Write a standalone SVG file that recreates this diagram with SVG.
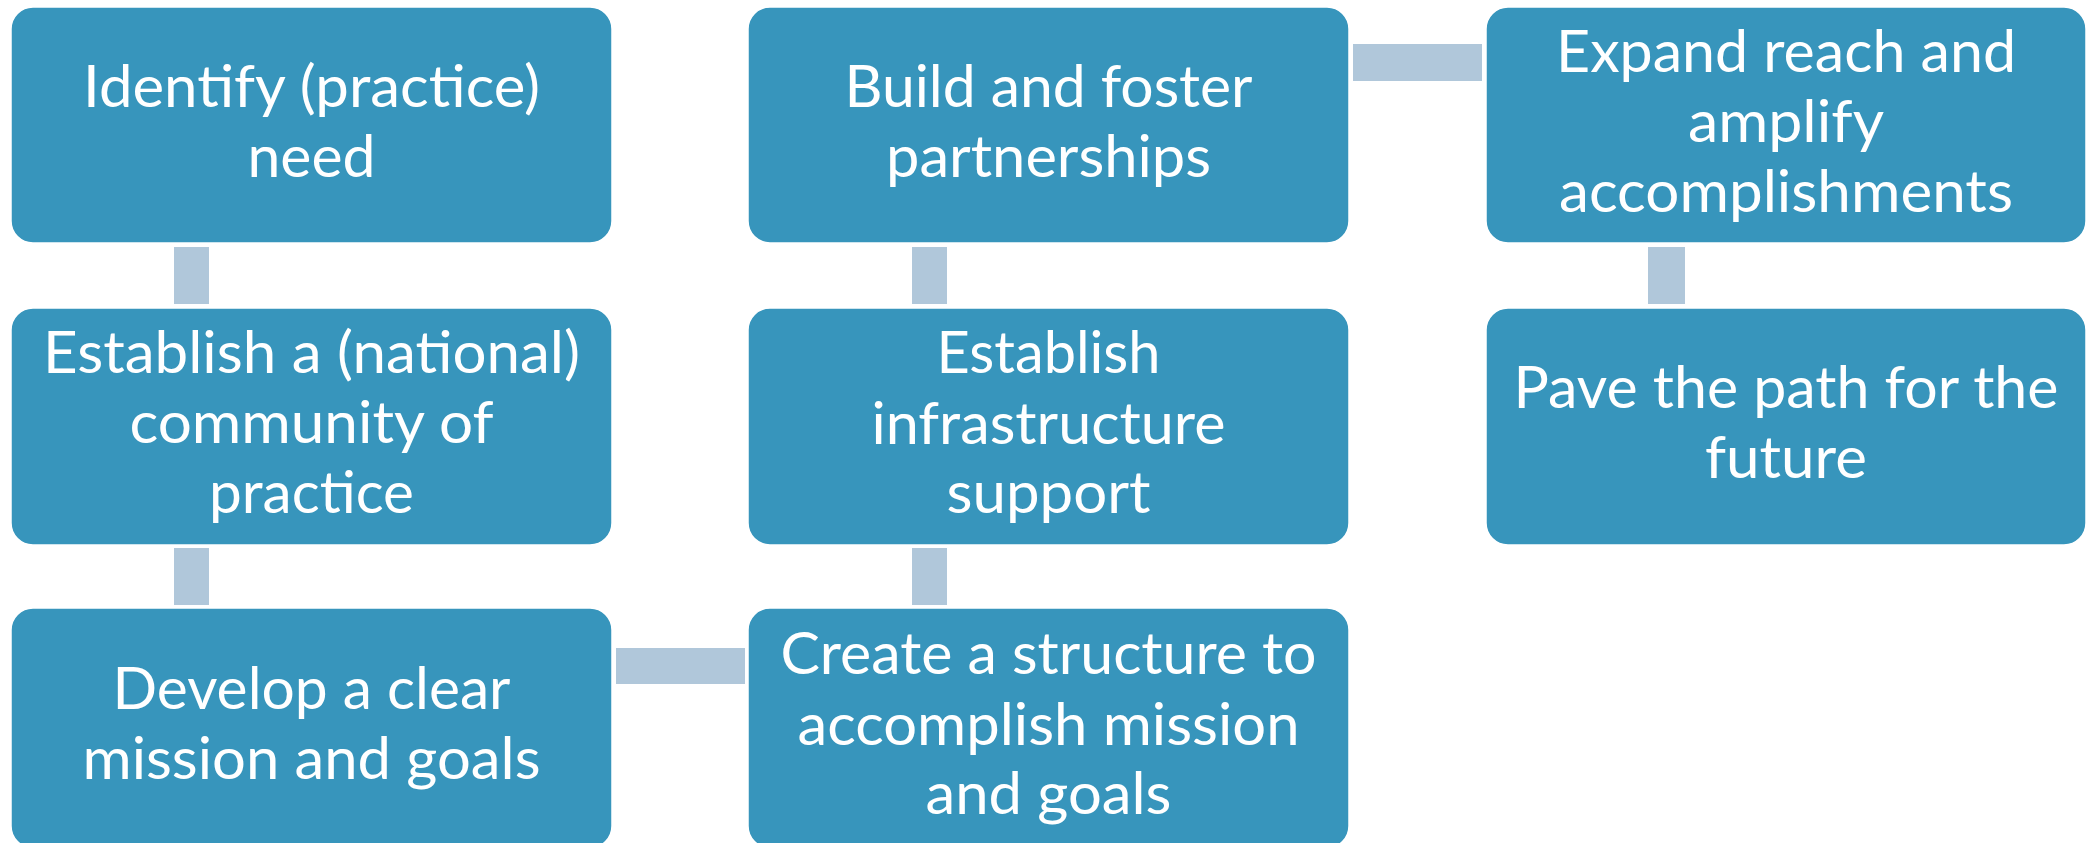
<svg xmlns="http://www.w3.org/2000/svg" width="2089" height="843" viewBox="0 0 2089 843">
<style>
.box{fill:#3795BC;stroke:#ffffff;stroke-width:1.5}
.conn{fill:#B0C7DA}
.t{font-family:Lato,"Open Sans","Liberation Sans",sans-serif;font-size:59px;fill:#ffffff;text-anchor:middle}
</style>
<rect width="2089" height="843" fill="#ffffff"/>
<g id="connectors">
<rect class="conn" x="174" y="247" width="35" height="57"/>
<rect class="conn" x="174" y="548" width="35" height="57"/>
<rect class="conn" x="616" y="648" width="129" height="36"/>
<rect class="conn" x="912" y="548" width="35" height="57"/>
<rect class="conn" x="912" y="247" width="35" height="57"/>
<rect class="conn" x="1353" y="44" width="129" height="37"/>
<rect class="conn" x="1648" y="247" width="37" height="57"/>
</g>
<g id="n1">
<rect class="box" x="11" y="7" width="601" height="236" rx="22" ry="22"/>
<text class="t" x="311.5" y="107" textLength="457" lengthAdjust="spacingAndGlyphs">Identify (practice)</text>
<text class="t" x="311.5" y="177" textLength="128" lengthAdjust="spacingAndGlyphs">need</text>
</g>
<g id="n2">
<rect class="box" x="11" y="308" width="601" height="237" rx="22" ry="22"/>
<text class="t" x="311.5" y="373" textLength="537" lengthAdjust="spacingAndGlyphs">Establish a (national)</text>
<text class="t" x="311.5" y="443" textLength="364" lengthAdjust="spacingAndGlyphs">community of</text>
<text class="t" x="311.5" y="513" textLength="205" lengthAdjust="spacingAndGlyphs">practice</text>
</g>
<g id="n3">
<rect class="box" x="11" y="608" width="601" height="240" rx="22" ry="22"/>
<text class="t" x="311.5" y="709" textLength="398" lengthAdjust="spacingAndGlyphs">Develop a clear</text>
<text class="t" x="311.5" y="779" textLength="458" lengthAdjust="spacingAndGlyphs">mission and goals</text>
</g>
<g id="n4">
<rect class="box" x="748" y="608" width="601" height="240" rx="22" ry="22"/>
<text class="t" x="1048.5" y="674" textLength="536" lengthAdjust="spacingAndGlyphs">Create a structure to</text>
<text class="t" x="1048.5" y="745" textLength="502" lengthAdjust="spacingAndGlyphs">accomplish mission</text>
<text class="t" x="1048.5" y="814" textLength="246" lengthAdjust="spacingAndGlyphs">and goals</text>
</g>
<g id="n5">
<rect class="box" x="748" y="308" width="601" height="237" rx="22" ry="22"/>
<text class="t" x="1048.5" y="373" textLength="224" lengthAdjust="spacingAndGlyphs">Establish</text>
<text class="t" x="1048.5" y="444" textLength="354" lengthAdjust="spacingAndGlyphs">infrastructure</text>
<text class="t" x="1048.5" y="513" textLength="204" lengthAdjust="spacingAndGlyphs">support</text>
</g>
<g id="n6">
<rect class="box" x="748" y="7" width="601" height="236" rx="22" ry="22"/>
<text class="t" x="1048.5" y="107" textLength="408" lengthAdjust="spacingAndGlyphs">Build and foster</text>
<text class="t" x="1048.5" y="177" textLength="325" lengthAdjust="spacingAndGlyphs">partnerships</text>
</g>
<g id="n7">
<rect class="box" x="1486" y="7" width="600" height="236" rx="22" ry="22"/>
<text class="t" x="1786" y="72" textLength="460" lengthAdjust="spacingAndGlyphs">Expand reach and</text>
<text class="t" x="1786" y="142" textLength="196" lengthAdjust="spacingAndGlyphs">amplify</text>
<text class="t" x="1786" y="212" textLength="454" lengthAdjust="spacingAndGlyphs">accomplishments</text>
</g>
<g id="n8">
<rect class="box" x="1486" y="308" width="600" height="237" rx="22" ry="22"/>
<text class="t" x="1786" y="408" textLength="545" lengthAdjust="spacingAndGlyphs">Pave the path for the</text>
<text class="t" x="1786" y="478" textLength="162" lengthAdjust="spacingAndGlyphs">future</text>
</g>
</svg>
